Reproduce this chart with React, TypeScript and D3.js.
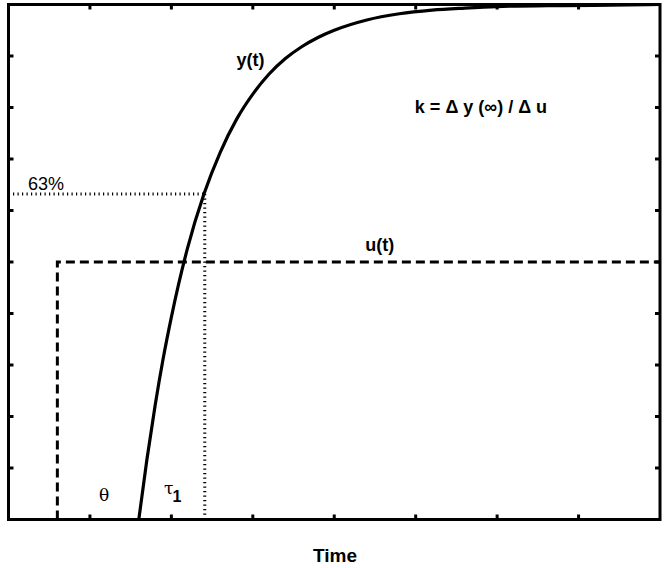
import React from "react";
import * as d3 from "d3";

// ---- data ----
const curveT = [1.6, 1.7, 1.8, 1.9, 2.0, 2.2, 2.4, 2.6, 2.8, 3.0, 3.2, 3.4, 3.6, 3.8, 4.0, 4.4, 4.8, 5.2, 5.6, 6.0, 6.8, 7.6, 8.0];
const curveY = [0, 0.117, 0.221, 0.313, 0.393, 0.528, 0.632, 0.713, 0.777, 0.826, 0.865, 0.895, 0.918, 0.936, 0.95, 0.97, 0.982, 0.989, 0.993, 0.996, 0.998, 0.999, 1.0];
const stepT = [0.6, 0.6, 8];
const stepU = [0, 0.5, 0.5];
const xTicks = [1, 2, 3, 4, 5, 6, 7];
const yTicks = [0.1, 0.2, 0.3, 0.4, 0.5, 0.6, 0.7, 0.8, 0.9];
const level63 = 0.632;
const tau63 = 2.41;
const labelText = ["63%", "y(t)", "k = \u0394 y (\u221E) / \u0394 u", "u(t)"];
const labelT = [0.24, 2.8, 4.99, 4.38];
const labelV = [0.64, 0.88, 0.789, 0.521];
const labelBold = [false, true, true, true];
const xTitle = "Time";

const W = 666;
const H = 568;

export default function App() {
  const x = d3.scaleLinear().domain([0, 8]).range([8.5, 660]);
  const y = d3.scaleLinear().domain([0, 1]).range([519.5, 4.5]);

  const curve = d3
    .line<number>()
    .x((_, i) => x(curveT[i]))
    .y((d) => y(d))
    .curve(d3.curveMonotoneX)(curveY) as string;

  const step = d3
    .line<number>()
    .x((_, i) => x(stepT[i]))
    .y((d) => y(d))(stepU) as string;

  const font = "'Liberation Sans', Arial, Helvetica, sans-serif";
  const tickLen = 5;

  return (
    <svg
      width={W}
      height={H}
      style={{ position: "absolute", left: 0, top: 0, background: "#fff" }}
      fontFamily={font}
    >
      <defs>
        <clipPath id="plot">
          <rect x={x(0)} y={y(1)} width={x(8) - x(0)} height={y(0) - y(1)} />
        </clipPath>
      </defs>
      <rect x={0} y={0} width={W} height={H} fill="#fff" />

      {/* dotted 63% guides */}
      <line
        x1={x(0)}
        x2={x(tau63)}
        y1={y(level63)}
        y2={y(level63)}
        stroke="#000"
        strokeWidth={3}
        strokeDasharray="1.2,3.3"
      />
      <line
        x1={x(tau63)}
        x2={x(tau63)}
        y1={y(level63)}
        y2={y(0)}
        stroke="#000"
        strokeWidth={3}
        strokeDasharray="1.2,3.3"
      />

      {/* step input */}
      <path d={step} fill="none" stroke="#000" strokeWidth={3} strokeDasharray="9,5" clipPath="url(#plot)" />

      {/* response */}
      <path d={curve} fill="none" stroke="#000" strokeWidth={3.2} clipPath="url(#plot)" />

      {/* ticks */}
      {xTicks.map((t) => (
        <g key={"xt" + t}>
          <line x1={x(t)} x2={x(t)} y1={y(0)} y2={y(0) - tickLen} stroke="#000" strokeWidth={3} />
          <line x1={x(t)} x2={x(t)} y1={y(1)} y2={y(1) + tickLen} stroke="#000" strokeWidth={3} />
        </g>
      ))}
      {yTicks.map((v) => (
        <g key={"yt" + v}>
          <line x1={x(0)} x2={x(0) + tickLen} y1={y(v)} y2={y(v)} stroke="#000" strokeWidth={3} />
          <line x1={x(8)} x2={x(8) - tickLen} y1={y(v)} y2={y(v)} stroke="#000" strokeWidth={3} />
        </g>
      ))}

      {/* axes box */}
      <rect
        x={x(0)}
        y={y(1)}
        width={x(8) - x(0)}
        height={y(0) - y(1)}
        fill="none"
        stroke="#000"
        strokeWidth={3}
      />

      {/* labels */}
      {labelText.map((s, i) => (
        <text
          key={s}
          x={x(labelT[i])}
          y={y(labelV[i])}
          fontSize={18}
          fontWeight={labelBold[i] ? "bold" : "normal"}
          fill="#000"
        >
          {s}
        </text>
      ))}
      <text x={x(1.11)} y={y(0.036)} fontSize={17} fontFamily="'DejaVu Serif', serif" fill="#000">
        {"\u03B8"}
      </text>
      <text x={x(1.91)} y={y(0.05)} fontSize={17} fontFamily="'DejaVu Serif', serif" fill="#000">
        {"\u03C4"}
        <tspan dx={-1} dy={8} fontSize={16} fontWeight="bold" fontFamily={font}>
          1
        </tspan>
      </text>

      <text x={335} y={562} textAnchor="middle" fontSize={19} fontWeight="bold" fill="#000">
        {xTitle}
      </text>
    </svg>
  );
}
